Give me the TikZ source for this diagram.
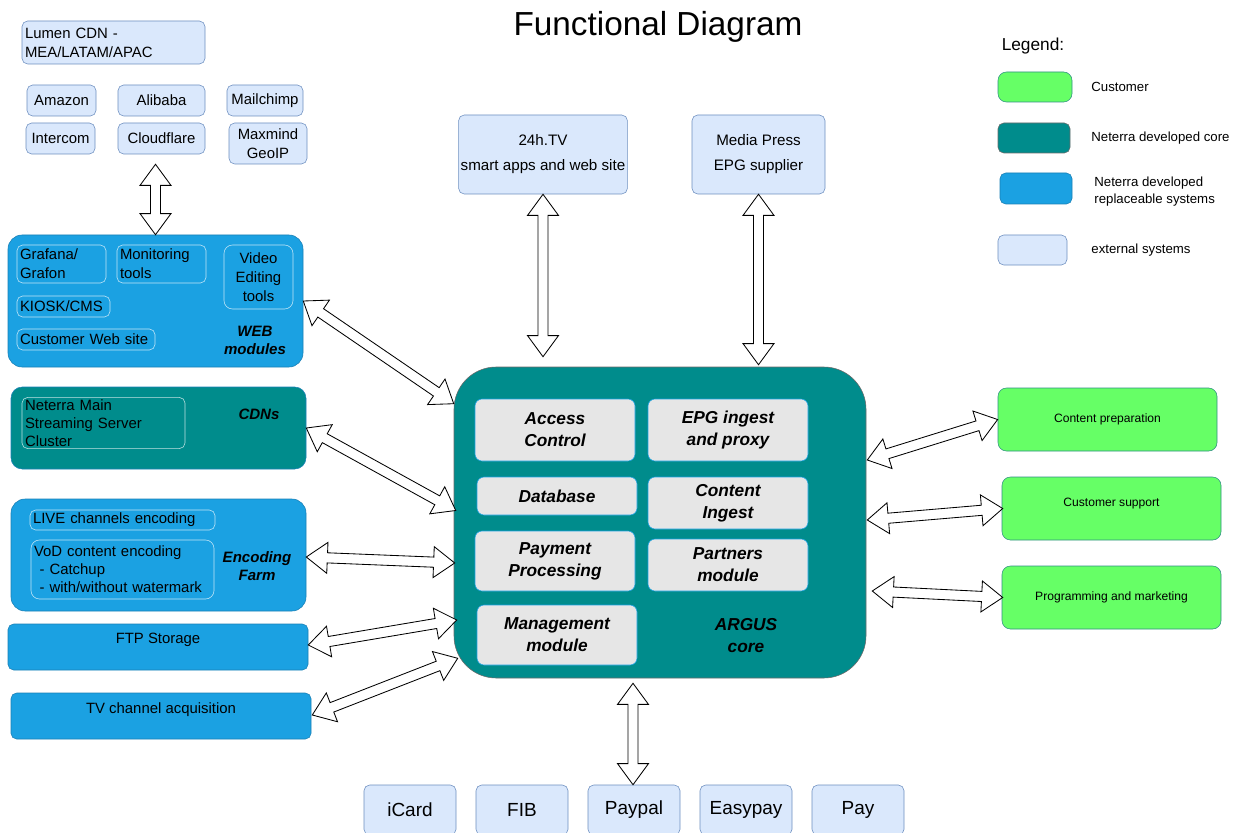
\documentclass[tikz,border=0pt]{standalone}
\usepackage{fontspec}
\setmainfont{Liberation Sans}
\usetikzlibrary{calc}

\newlength{\upx}\setlength{\upx}{0.025cm}
\definecolor{extfill}{HTML}{DAE8FC}
\definecolor{extline}{HTML}{6C8EBF}
\definecolor{replfill}{HTML}{1BA1E2}
\definecolor{replline}{HTML}{1A7FB5}
\definecolor{corefill}{HTML}{008C8C}
\definecolor{coreline}{HTML}{6A6A6A}
\definecolor{custfill}{HTML}{66FF66}
\definecolor{custline}{HTML}{2F8F83}
\definecolor{modfill}{HTML}{E6E6E6}

\newcommand{\dblarrow}[2]{%
  \draw[blockarrow] let \p1=(#1), \p2=(#2),
      \n1={atan2(\y2-\y1,\x2-\x1)}, \n2={veclen(\x2-\x1,\y2-\y1)} in
    [shift={(\p1)}, rotate=\n1]
    (0pt,0pt) -- (15pt,11pt) -- (15pt,3.6pt) -- ({\n2*1pt-15pt},3.6pt)
    -- ({\n2*1pt-15pt},11pt) -- ({\n2*1pt},0pt) -- ({\n2*1pt-15pt},-11pt)
    -- ({\n2*1pt-15pt},-3.6pt) -- (15pt,-3.6pt) -- (15pt,-11pt) -- cycle;}

\begin{document}
\begin{tikzpicture}
  [x=0.025cm, y=-0.025cm,
   every node/.style={font=\fontsize{10.6}{13.5}\selectfont, inner sep=1.5pt, align=center},
   sz/.style 2 args={minimum width=#1\upx, minimum height=#2\upx},
   ltext/.style={align=left, text width=#1\upx},
   extbox/.style={draw=extline, fill=extfill, rounded corners=4pt},
   replbox/.style={draw=replline, fill=replfill, rounded corners=4pt},
   corebox/.style={draw=replline, fill=corefill, rounded corners=4pt},
   custbox/.style={draw=custline, fill=custfill, rounded corners=6pt,
     font=\fontsize{8.6}{10}\selectfont},
   inbox/.style={draw=white, draw opacity=0.75, rounded corners=4pt},
   module/.style={draw=replfill, fill=modfill, rounded corners=5pt,
     font=\bfseries\itshape\fontsize{12.3}{15.6}\selectfont},
   grouptitle/.style={font=\bfseries\itshape\fontsize{10.7}{12.8}\selectfont},
   legtext/.style={anchor=west, align=left, font=\fontsize{9.4}{12}\selectfont},
   paybox/.style={extbox, sz={92}{50}, font=\fontsize{13.5}{16}\selectfont},
   blockarrow/.style={draw=black, fill=white, line width=0.6pt, line join=miter}]

  \useasboundingbox (0,0) rectangle (1234,833);

  \node[font=\fontsize{23.7}{28}\selectfont] (title) at (658,27) {Functional Diagram};

  \node[extbox, sz={183}{43}, ltext=177] (lumen) at (113.5,42.5) {Lumen CDN -\\MEA/LATAM/APAC};
  \node[extbox, sz={69}{31}] (amazon) at (61.5,100.5) {Amazon};
  \node[extbox, sz={87}{31}] (alibaba) at (161.5,100.5) {Alibaba};
  \node[extbox, sz={76}{31}] (mailchimp) at (265,100.5) {Mailchimp};
  \node[extbox, sz={69}{31}] (intercom) at (60.5,138.5) {Intercom};
  \node[extbox, sz={87}{31}] (cloudflare) at (161.5,138.5) {Cloudflare};
  \node[extbox, sz={78}{41}] (maxmind) at (268,143.5) {Maxmind\\GeoIP};

  \node[replbox, sz={295}{132}, rounded corners=10pt] (web) at (155.5,301) {};
  \node[inbox, sz={89}{38}, ltext=83] (grafana) at (61.5,264) {Grafana/\\Grafon};
  \node[inbox, sz={89}{38}, ltext=83] (monitoring) at (161.5,264) {Monitoring\\tools};
  \node[inbox, sz={69}{64}, rounded corners=6pt] (video) at (258.5,277) {Video\\Editing\\tools};
  \node[inbox, sz={93}{21}, ltext=87] (kiosk) at (63.5,306.5) {KIOSK/CMS};
  \node[inbox, sz={138}{21}, ltext=132] (website) at (86,339.5) {Customer Web site};
  \node[grouptitle] (webtitle) at (255,340) {WEB\\modules};

  \node[corebox, sz={295}{82}, rounded corners=8pt] (cdn) at (158.5,428) {};
  \node[inbox, sz={163}{50}, ltext=157, font=\fontsize{10.6}{12.8}\selectfont]
    (streaming) at (103.5,423) {Neterra Main\\Streaming Server\\Cluster};
  \node[grouptitle] (cdntitle) at (259,414) {CDNs};

  \node[replbox, sz={295}{112}, rounded corners=10pt] (enc) at (158.5,555) {};
  \node[inbox, sz={185}{20}, ltext=179] (live) at (122.5,520) {LIVE channels encoding};
  \node[inbox, sz={183}{59}, ltext=177, rounded corners=6pt, font=\fontsize{10.6}{12.8}\selectfont]
    (vod) at (122.5,569.5) {VoD content encoding\\\hspace*{4pt}- Catchup\\\hspace*{4pt}- with/without watermark};
  \node[grouptitle] (enctitle) at (257,566) {Encoding\\Farm};

  \node[replbox, sz={300}{46}, text depth=13pt] (ftp) at (158,647) {FTP Storage};
  \node[replbox, sz={300}{46}, text depth=11.5pt] (tvacq) at (161,716) {TV channel acquisition};

  \node[corebox, draw=coreline, sz={412}{311}, rounded corners=30pt] (core) at (660,522.5) {};
  \node[module, sz={160}{62}] (access) at (555,430) {Access\\Control};
  \node[module, sz={160}{62}] (epg) at (728,430) {EPG ingest\\and proxy};
  \node[module, sz={160}{38}] (db) at (557,496) {Database};
  \node[module, sz={160}{52}] (ingest) at (728,503) {Content\\Ingest};
  \node[module, sz={160}{60}] (payment) at (555,561) {Payment\\Processing};
  \node[module, sz={160}{52}] (partners) at (728,565) {Partners\\module};
  \node[module, sz={160}{60}] (mgmt) at (557,635) {Management\\module};
  \node[font=\bfseries\itshape\fontsize{12.3}{15.6}\selectfont] (argus) at (746,636) {ARGUS\\core};

  \node[extbox, sz={168}{79}, font=\fontsize{10.8}{17.7}\selectfont] (tv24) at (543,154.5) {24h.TV\\smart apps and web site};
  \node[extbox, sz={133}{79}, font=\fontsize{10.8}{17.7}\selectfont] (media) at (758.5,154.5) {Media Press\\EPG supplier};

  \node[font=\fontsize{12.3}{14}\selectfont] (legend) at (1033,46) {Legend:};
  \node[custbox, sz={74}{30}] (lgcust) at (1035,87) {};
  \node[corebox, draw=coreline, sz={72}{30}] (lgcore) at (1034,138) {};
  \node[replbox, sz={72}{31}] (lgrepl) at (1036,188.5) {};
  \node[extbox, sz={69}{30}] (lgext) at (1032.5,250) {};
  \node[legtext] (lgcusttext) at (1089,87) {Customer};
  \node[legtext] (lgcoretext) at (1089,138) {Neterra developed core};
  \node[legtext] (lgrepltext) at (1092,191.5) {Neterra developed\\replaceable systems};
  \node[legtext] (lgexttext) at (1089,250) {external systems};

  \node[custbox, sz={219}{63}] (prep) at (1107.5,419.5) {Content preparation};
  \node[custbox, sz={219}{63}, text depth=9.2pt] (support) at (1111.5,508.5) {Customer support};
  \node[custbox, sz={219}{63}] (prog) at (1111.5,597.5) {Programming and marketing};

  \node[paybox] (icard) at (410,810) {iCard};
  \node[paybox] (fib) at (522,810) {FIB};
  \node[paybox] (paypal) at (634,810) {Paypal};
  \node[paybox] (easypay) at (746,810) {Easypay};
  \node[paybox] (pay) at (858,810) {Pay};

  \dblarrow{$(cloudflare.south -| web.north)+(0,10)$}{web.north}
  \dblarrow{tv24.south}{$(tv24.south |- core.north)+(0,-10)$}
  \dblarrow{media.south}{$(media.south |- core.north)+(0,-2)$}
  \dblarrow{web.east}{$(core.north west)+(0,37)$}
  \dblarrow{cdn.east}{$(core.west)+(2,-12)$}
  \dblarrow{$(enc.east)+(0,2)$}{$(core.west)+(1,40.5)$}
  \dblarrow{$(ftp.east)+(0,-2)$}{$(core.west)+(3,97.5)$}
  \dblarrow{$(tvacq.east)+(1,-1)$}{$(core.south west)+(4,-20)$}
  \dblarrow{$(core.east)+(1,-62.5)$}{prep.west}
  \dblarrow{$(core.east)+(1,-2.5)$}{$(support.west)+(1,0)$}
  \dblarrow{$(core.east)+(6,68.5)$}{$(prog.west)+(1,0)$}
  \dblarrow{$(paypal.north |- core.south)+(-1,5)$}{$(paypal.north)+(-1,0)$}

\end{tikzpicture}
\end{document}
